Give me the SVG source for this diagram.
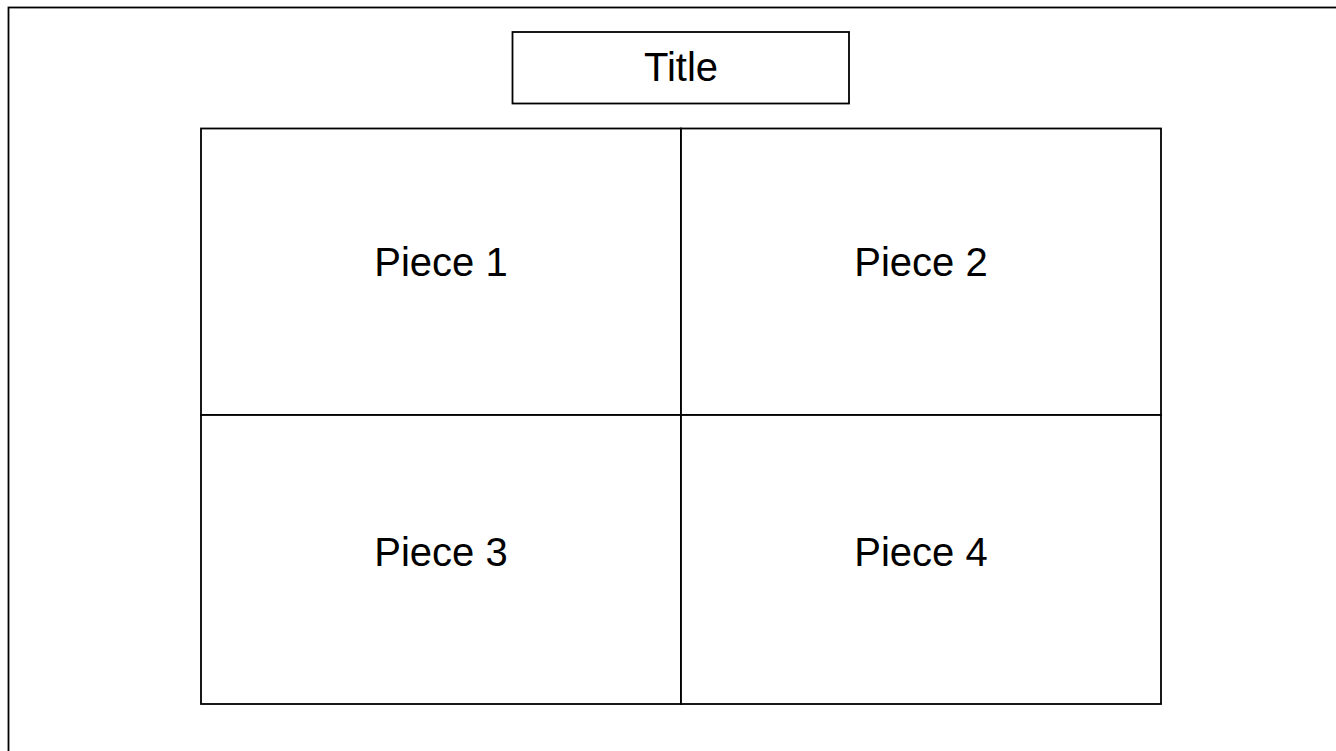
<svg xmlns="http://www.w3.org/2000/svg" width="1336" height="751" viewBox="0 0 1336 751">
<style>
.box{fill:#fff;stroke:#000;stroke-width:1.8}
.line{fill:none;stroke:#000;stroke-width:1.8}
.lbl{font-family:"Liberation Sans",Arial,sans-serif;font-size:40px;fill:#000;text-anchor:middle}
</style>
<rect x="0" y="0" width="1336" height="751" fill="#fff"/>
<g id="frame"><rect class="line" x="8.5" y="7.5" width="1340" height="760"/></g>
<g id="title"><rect class="box" x="512.5" y="32" width="336.5" height="71.5"/><text class="lbl" x="681" y="81">Title</text></g>
<g id="piece1"><rect class="box" x="201" y="128.5" width="480" height="286.5"/><text class="lbl" x="441" y="276">Piece 1</text></g>
<g id="piece2"><rect class="box" x="681" y="128.5" width="480" height="286.5"/><text class="lbl" x="921" y="276">Piece 2</text></g>
<g id="piece3"><rect class="box" x="201" y="415" width="480" height="289"/><text class="lbl" x="441" y="566">Piece 3</text></g>
<g id="piece4"><rect class="box" x="681" y="415" width="480" height="289"/><text class="lbl" x="921" y="566">Piece 4</text></g>
<g id="connectors"></g>
</svg>
